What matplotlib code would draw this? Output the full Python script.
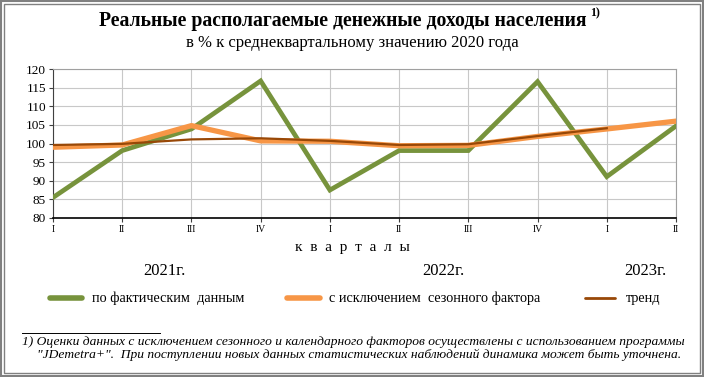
import matplotlib
matplotlib.use("Agg")
import matplotlib.pyplot as plt
from matplotlib.patches import Rectangle
from matplotlib.lines import Line2D

quarters = ["I", "II", "III", "IV", "I", "II", "III", "IV", "I", "II"]
actual = [85.5, 98.1, 103.9, 116.8, 87.5, 98.1, 98.1, 116.6, 91.1, 104.7]
seasonal = [99.0, 99.6, 104.8, 100.7, 100.6, 99.4, 99.5, 101.9, 103.9, 106.0]
trend = [99.6, 99.9, 101.1, 101.4, 100.7, 99.6, 99.8, 102.0, 104.1]
years = ["2021г.", "2022г.", "2023г."]
legend_labels = ["по фактическим  данным", "с исключением  сезонного фактора", "тренд"]

serif = ["Liberation Serif", "DejaVu Serif"]
plt.rcParams["font.family"] = serif

W, H = 704, 377
fig = plt.figure(figsize=(W / 100, H / 100), dpi=100)

c_green = "#77933C"
c_orange = "#F79646"
c_brown = "#984807"

def fx(px):
    return px / W

def fy(py):
    return 1 - py / H

# axes: left=53, right=676, top=69, bottom=218
ax = fig.add_axes([fx(53), fy(218), fx(676) - fx(53), fy(69) - fy(218)])
x = list(range(len(quarters)))
ax.plot(x, actual, color=c_green, lw=3.4, solid_joinstyle="miter", zorder=3)
ax.plot(x, seasonal, color=c_orange, lw=3.8, solid_joinstyle="round", zorder=4)
ax.plot(x[:len(trend)], trend, color=c_brown, lw=1.6, zorder=5)
ax.set_xlim(0, 9)
ax.set_ylim(80, 120)
ax.set_yticks(range(80, 121, 5))
ax.set_xticks(x)
ax.set_xticklabels(quarters, fontsize=7, family=serif)
for lab in ax.get_yticklabels():
    lab.set_family(serif)
ax.tick_params(axis="y", labelsize=9.5, length=3, width=0.8, pad=2, color="#404040")
ax.tick_params(axis="x", length=3, width=0.8, pad=2, color="#404040")
ax.grid(True, color="#C8C8C8", lw=0.8)
ax.set_axisbelow(True)
for s in ["top", "right"]:
    ax.spines[s].set_color("#A0A0A0")
    ax.spines[s].set_linewidth(0.8)
ax.spines["left"].set_color("#404040")
ax.spines["bottom"].set_color("#000000")
ax.spines["bottom"].set_linewidth(1.2)

# titles
fig.text(fx(343), fy(21), "Реальные располагаемые денежные доходы населения",
         ha="center", va="center", fontsize=14.2, fontweight="bold", family=serif)
fig.text(fx(590), fy(13), "1)", ha="left", va="center", fontsize=8.5, fontweight="bold", family=serif)
fig.text(fx(352), fy(43), "в % к среднеквартальному значению 2020 года",
         ha="center", va="center", fontsize=12, family=serif)

fig.text(fx(352), fy(248), "к  в  а  р  т  а  л  ы", ha="center", va="center", fontsize=11, family=serif)
for xp, lab in zip([164, 443, 645], years):
    fig.text(fx(xp), fy(271), lab, ha="center", va="center", fontsize=12, family=serif)

# legend
leg_items = [(50, 82, 92, c_green, 4.0), (287, 320, 329, c_orange, 4.0), (585, 615, 626, c_brown, 2.0)]
for (x0, x1, tx, col, lw), lab in zip(leg_items, legend_labels):
    fig.add_artist(Line2D([fx(x0), fx(x1)], [fy(298), fy(298)], color=col, lw=lw,
                          solid_capstyle="round", transform=fig.transFigure))
    fig.text(fx(tx), fy(302), lab, ha="left", va="baseline", fontsize=10.3, family=serif)

# footnote
fig.add_artist(Line2D([fx(22), fx(160)], [fy(333), fy(333)], color="black", lw=0.7,
                      transform=fig.transFigure))
fig.text(fx(22), fy(342), "1) Оценки данных с исключением сезонного и календарного факторов осуществлены с использованием программы",
         ha="left", va="center", fontsize=9.7, style="italic", family=serif)
fig.text(fx(37), fy(355), "\"JDemetra+\".  При поступлении новых данных статистических наблюдений динамика может быть уточнена.",
         ha="left", va="center", fontsize=9.7, style="italic", family=serif)

# double border
fig.add_artist(Rectangle((fx(1), fy(376)), fx(702), fy(1) - fy(376), fill=False,
                         edgecolor="#808080", lw=1.5, transform=fig.transFigure))
fig.add_artist(Rectangle((fx(4), fy(373)), fx(696), fy(4) - fy(373), fill=False,
                         edgecolor="#808080", lw=1.0, transform=fig.transFigure))

fig.savefig("out.png", dpi=100)
